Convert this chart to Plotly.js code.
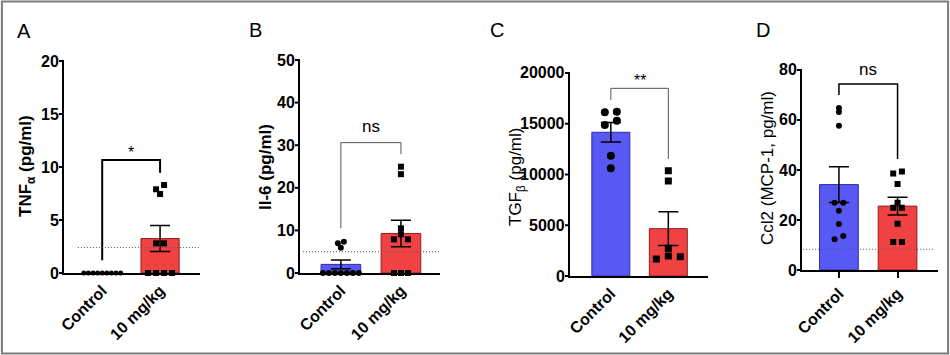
<!DOCTYPE html>
<html><head><meta charset="utf-8">
<script src="https://cdn.plot.ly/plotly-3.0.1.min.js"></script>
<style>html,body{margin:0;padding:0;background:#fff}#chart{width:950px;height:355px}</style>
</head><body><div id="chart"></div>
<script>
// ---------- data ----------
const groups = ["Control", "10 mg/kg"];
const panelLetters = ["A", "B", "C", "D"];
const yTitles = ["TNF<sub>α</sub> (pg/ml)", "Il-6 (pg/ml)", "TGF<sub>β</sub> (pg/ml)", "Ccl2 (MCP-1, pg/ml)"];
const sigLabels = ["*", "ns", "**", "ns"];

const tnfControl = [0, 0, 0, 0, 0, 0, 0, 0, 0];
const tnfTreated = [8.3, 7.9, 7.45, 2.8, 2.8, 0, 0, 0, 0];
const il6Control = [7.35, 6.97, 5.95, 0, 0, 0, 0, 0, 0, 0];
const il6Treated = [24.95, 23.2, 10.5, 9.1, 7.9, 7.9, 0, 0, 0];
const tgfControl = [16190, 16130, 15300, 14880, 11850, 10610];
const tgfTreated = [10370, 9360, 2730, 1970, 1900, 1670];
const ccl2Control = [64.8, 63.2, 57.7, 26.9, 26.9, 23.7, 18.4, 13.6, 12.3];
const ccl2Treated = [39.4, 38.6, 34.4, 26.9, 24.9, 24.9, 18.5, 11.2, 11.2];

const yMax = [20, 50, 20000, 80];
const yTick = [5, 10, 5000, 20];
const detectionLimit = [2.4, 5.0, null, 8.3];
// bracket: [top, left leg bottom, right leg bottom, label y]
const brackets = [
  [10.66, 1.2, 9.45, 11.4],
  [30.6, 10.5, 27.9, 34.3],
  [18490, 17340, 11530, 19300],
  [74.4, 70, 44.4, 80]
];

// ---------- layout (pixels) ----------
const W = 950, H = 355;
const panels = [
  {l: 64, r: 200, t: 61, b: 273, xr: [-0.66, 1.69], ctrl: tnfControl, trt: tnfTreated,
   cs: 5, ts: 6, csp: 4.6, tsp: 8, thr: 6, bc: "black", bw: 2, xticks: "", dl: [-0.42, 1.67],
   title: [27, 166], tbold: true, letter: [24, 31]},
  {l: 300, r: 440, t: 60, b: 273, xr: [-0.68, 1.65], ctrl: il6Control, trt: il6Treated,
   cs: 6, ts: 6, csp: 6, tsp: 7, thr: 5.5, bc: "#555", bw: 1, xticks: "", dl: [-0.63, 1.64],
   title: [265, 167], tbold: true, letter: [255, 30]},
  {l: 570, r: 708, t: 73, b: 276, xr: [-0.71, 1.69], ctrl: tgfControl, trt: tgfTreated,
   cs: 8, ts: 7, csp: 12, tsp: 12, thr: 7, bc: "#555", bw: 1, xticks: "", dl: null,
   title: [517, 177], tbold: false, letter: [497, 30]},
  {l: 802, r: 938, t: 70, b: 270, xr: [-0.63, 1.69], ctrl: ccl2Control, trt: ccl2Treated,
   cs: 6, ts: 6, csp: 8.7, tsp: 8.7, thr: 3.5, bc: "black", bw: 1.5, xticks: "outside", dl: [-0.61, 1.64],
   title: [767, 168], tbold: false, letter: [763, 30]}
];

const BLUE = "rgb(88,88,245)", BLUE_LINE = "rgb(45,45,160)";
const RED = "rgb(240,66,66)", RED_LINE = "rgb(140,30,30)";
const FONT = "Liberation Sans, Arial, sans-serif";
const TICKLEN = 4;

function mean(a) { return a.reduce((s, v) => s + v, 0) / a.length; }
function sem(a) {
  const m = mean(a);
  const v = a.reduce((s, x) => s + (x - m) * (x - m), 0) / (a.length - 1);
  return Math.sqrt(v) / Math.sqrt(a.length);
}
function jitterX(vals, center, spacingPx, thrPx, pxPerUnit, pxPerCat) {
  const idx = vals.map((v, i) => i).sort((a, b) => vals[b] - vals[a]);
  const xs = new Array(vals.length);
  let g = [];
  const flush = () => {
    const n = g.length;
    g.forEach((i, k) => {
      let slot;
      if (n % 2 === 1) slot = k === 0 ? 0 : (k % 2 === 1 ? (k + 1) / 2 : -k / 2);
      else slot = k % 2 === 0 ? (k / 2 + 0.5) : -((k - 1) / 2 + 0.5);
      xs[i] = center + slot * spacingPx / pxPerCat;
    });
    g = [];
  };
  idx.forEach(i => {
    if (g.length && (vals[g[0]] - vals[i]) * pxPerUnit > thrPx) flush();
    g.push(i);
  });
  flush();
  return xs;
}

const traces = [], shapes = [], annotations = [];
const layout = {
  width: W, height: H, margin: {l: 0, r: 0, t: 0, b: 0},
  paper_bgcolor: "white", plot_bgcolor: "white", showlegend: false,
  font: {family: FONT, color: "#000000"}
};

panels.forEach((p, k) => {
  const n = k === 0 ? "" : String(k + 1);
  const xa = "x" + n, ya = "y" + n;
  const pxPerUnit = (p.b - p.t) / yMax[k];
  const pxPerCat = (p.r - p.l) / (p.xr[1] - p.xr[0]);

  layout["xaxis" + n] = {
    domain: [p.l / W, p.r / W], anchor: ya, range: p.xr, type: "linear",
    tickvals: [0, 1], ticktext: groups, tickangle: -45,
    ticks: p.xticks, ticklen: 6, tickwidth: 2, tickcolor: "black",
    showline: true, linewidth: 2, linecolor: "black", showgrid: false, zeroline: false,
    tickfont: {family: FONT, size: 16, weight: 700, color: "#000000"}, fixedrange: true
  };
  layout["yaxis" + n] = {
    domain: [1 - p.b / H, 1 - p.t / H], anchor: xa, range: [0, yMax[k]],
    showticklabels: false, ticks: "",
    showline: true, linewidth: 2, linecolor: "black", showgrid: false, zeroline: false,
    fixedrange: true
  };
  // y-axis ticks and labels, at the axis' tick values
  for (let v = 0; v <= yMax[k] + 1e-9; v += yTick[k]) {
    shapes.push({
      type: "line", xref: "paper", yref: ya + " domain", layer: "above",
      x0: (p.l - TICKLEN - 1) / W, x1: p.l / W, y0: v / yMax[k], y1: v / yMax[k],
      line: {color: "black", width: 2}
    });
    annotations.push({
      xref: "paper", yref: ya + " domain", x: (p.l - TICKLEN) / W, y: v / yMax[k],
      text: String(v), showarrow: false, xanchor: "right", yanchor: "middle", xshift: 1,
      font: {family: FONT, size: 16, weight: 700, color: "#000000"}
    });
  }

  traces.push({
    type: "bar", x: [0, 1], y: [mean(p.ctrl), mean(p.trt)], width: 0.66,
    xaxis: xa, yaxis: ya,
    marker: {color: [BLUE, RED], line: {color: [BLUE_LINE, RED_LINE], width: 1}},
    error_y: {type: "data", array: [sem(p.ctrl), sem(p.trt)], visible: true,
      color: "black", thickness: 1.5, width: 10},
    hoverinfo: "skip"
  });
  traces.push({
    type: "scatter", mode: "markers", xaxis: xa, yaxis: ya, cliponaxis: false,
    x: jitterX(p.ctrl, 0, p.csp, p.thr, pxPerUnit, pxPerCat), y: p.ctrl,
    marker: {symbol: "circle", size: p.cs, color: "black"}
  });
  traces.push({
    type: "scatter", mode: "markers", xaxis: xa, yaxis: ya, cliponaxis: false,
    x: jitterX(p.trt, 1, p.tsp, p.thr, pxPerUnit, pxPerCat), y: p.trt,
    marker: {symbol: "square", size: p.ts, color: "black"}
  });

  const br = brackets[k];
  shapes.push({
    type: "path", xref: xa, yref: ya, layer: "above",
    path: `M0,${br[1]} L0,${br[0]} L1,${br[0]} L1,${br[2]}`,
    line: {color: p.bc, width: p.bw}
  });
  annotations.push({
    xref: xa, yref: ya, x: 0.5, y: br[3], text: sigLabels[k], showarrow: false,
    xanchor: "center", yanchor: "middle",
    font: {family: FONT, size: sigLabels[k] === "ns" ? 17 : 16, color: "#000000"}
  });

  if (detectionLimit[k] !== null) {
    shapes.push({
      type: "line", xref: xa, yref: ya, layer: "above",
      x0: p.dl[0], x1: p.dl[1], y0: detectionLimit[k], y1: detectionLimit[k],
      line: {color: "#555", width: 1, dash: "1px,2px"}
    });
  }

  annotations.push({
    xref: "paper", yref: "paper", x: p.title[0] / W, y: 1 - p.title[1] / H,
    text: yTitles[k], textangle: -90, showarrow: false, xanchor: "center", yanchor: "middle",
    font: {family: FONT, size: 17, weight: p.tbold ? 700 : 400, color: "#000000"}
  });
  annotations.push({
    xref: "paper", yref: "paper", x: p.letter[0] / W, y: 1 - p.letter[1] / H,
    text: panelLetters[k], showarrow: false, xanchor: "center", yanchor: "middle",
    font: {family: FONT, size: 20, color: "#000000"}
  });
});

shapes.push({
  type: "rect", xref: "paper", yref: "paper", x0: 0.002, x1: 0.998, y0: 0.004, y1: 0.996,
  line: {color: "#7a7a7a", width: 2}, layer: "above"
});
layout.shapes = shapes;
layout.annotations = annotations;

Plotly.newPlot("chart", traces, layout, {staticPlot: true, displayModeBar: false});
</script>
</body></html>
